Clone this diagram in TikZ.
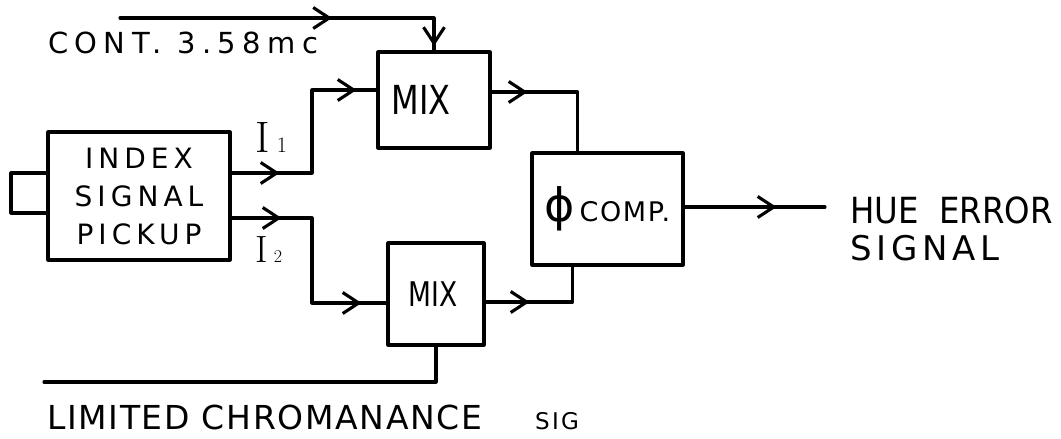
\documentclass[tikz,border=0pt]{standalone}
\usepackage{fontspec}
\newfontfamily\hand{DejaVu Sans}
\usetikzlibrary{arrows.meta,decorations.markings}
\tikzset{
  ink/.style={line width=3.1pt, line join=round, line cap=round},
  block/.style={draw, ink, inner sep=0pt, align=center},
  lbl/.style={inner sep=0pt, align=left},
  barb/.style={postaction={decorate, decoration={markings,
      mark=at position #1 with {\arrow{Straight Barb[length=16pt,width=21pt]}}}}},
}
% font size and tracking helpers
\newcommand{\hsz}[1]{\fontsize{#1}{1.3\dimexpr #1pt\relax}\selectfont}
\newcommand{\trk}[1]{\addfontfeature{LetterSpace=#1}}
\begin{document}
\begin{tikzpicture}[x=1pt,y=-1pt]
  \useasboundingbox (0,0) rectangle (1061,439);

  % blocks
  \node[block, minimum width=182pt, minimum height=128pt,
        font=\hand\trk{18}\fontsize{28}{38}\selectfont] (idx) at (139,196) {INDEX\\SIGNAL\\PICKUP};
  \node[block, minimum width=112pt, minimum height=96pt,
        font=\hand\hsz{40}] (mix1) at (434,100) {\scalebox{0.8}[1]{MIX}\hspace*{26pt}};
  \node[block, minimum width=96pt, minimum height=102pt,
        font=\hand\hsz{34}] (mix2) at (436,294) {\scalebox{0.78}[1]{MIX}\hspace*{6pt}};
  \node[block, minimum width=151pt, minimum height=112pt,
        font=\hand\trk{6}\hsz{27}] (comp) at (607.5,209) {{\hsz{46}ϕ}\,COMP.};

  % pickup side tab
  \draw[ink] (idx.west |- 0,173) -- (11,173) -- (11,213) -- (idx.west |- 0,213);

  % control input
  \coordinate (ctl) at (120,18);
  \draw[ink, barb=212pt, barb=342pt] (ctl) -- (mix1.north |- ctl) -- (mix1.north);
  \node[lbl, anchor=base west, font=\hand\trk{22}\hsz{29}] (contlbl) at (48,53) {CONT. 3.58mc};

  % index signals
  \draw[ink, barb=48pt, barb=208pt] (idx.east |- 0,173) -- (312,173) -- (312,90) -- (mix1.west |- 0,90);
  \draw[ink, barb=50pt, barb=215pt] (idx.east |- 0,218) -- (312,218) -- (312,303) -- (mix2.west |- 0,303);
  \node[lbl, anchor=base west, font=\rmfamily\hsz{44}] (i1) at (255,152) {I\,{\hsz{22}1}};
  \node[lbl, anchor=base west, font=\rmfamily\hsz{38}] (i2) at (255,262) {I\,{\hsz{18}2}};

  % mixers to comparator
  \draw[ink, barb=36pt] (mix1.east |- 0,92) -| ([xshift=-30pt]comp.north);
  \draw[ink, barb=44pt] (mix2.east |- 0,302) -| ([xshift=-35pt]comp.south);

  % output
  \coordinate (out) at (825,207);
  \draw[ink, barb=92pt] (comp.east |- out) -- (out);
  \node[lbl, anchor=base west, font=\hand\hsz{36}] (hue) at (850,223) {\scalebox{0.9}[1]{HUE\ \ ERROR}};
  \node[lbl, anchor=base west, font=\hand\trk{14}\hsz{34}] (sig) at (850,260) {SIGNAL};

  % chrominance input
  \coordinate (lim) at (44,382);
  \draw[ink] (lim) -| (mix2.south);
  \node[lbl, anchor=base west, font=\hand\trk{5}\hsz{33}] (chroma) at (47,429) {LIMITED CHROMANANCE};
  \node[lbl, anchor=base west, font=\hand\trk{10}\hsz{23}] (chromasig) at (535,429) {SIG};
\end{tikzpicture}
\end{document}
